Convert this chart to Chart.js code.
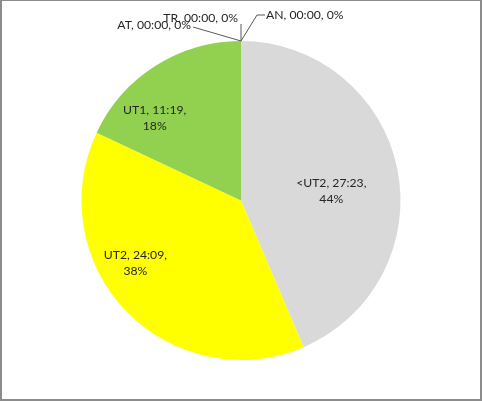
<!DOCTYPE html>
<html>
<head>
<meta charset="utf-8">
<script src="https://cdn.jsdelivr.net/npm/chart.js@4"></script>
<style>
  body { margin: 0; background: #fff; }
  canvas { display: block; }
</style>
</head>
<body>
<canvas id="chart" width="482" height="401"></canvas>
<script>
// slice names, clockwise from 12 o'clock
const categories = ["AN", "<UT2", "UT2", "UT1", "AT", "TR"];
// durations in minutes (27:23, 24:09, 11:19, ...)
const minutes = [0, 1643, 1449, 679, 0, 0];
const colors = ["#4472C4", "#D9D9D9", "#FFFF00", "#92D050", "#A5A5A5", "#5B9BD5"];

// where Excel put the labels, relative to pie centre, in radius units
const insideLabels = {
    "<UT2": [0.566, -0.062],
    "UT2": [-0.662, 0.39],
    "UT1": [-0.541, -0.516]
};
// zero slices get leader lines: elbow points and text anchor, in px from the slice start
const outsideLabels = {
    "AN": { path: [[16, -26], [24, -26]], text: [25, -26], align: "left" },
    "TR": { path: [[0, -17]], text: [-3, -23], align: "right" },
    "AT": { path: [[-48, -14]], text: [-50, -16], align: "right" }
};

const total = minutes.reduce((a, b) => a + b, 0);

function hhmm(m) {
    const h = Math.floor(m / 60);
    const mm = m % 60;
    return String(h).padStart(2, "0") + ":" + String(mm).padStart(2, "0");
}

const FONT = "12.2px Lato, 'Open Sans', sans-serif";

const labelPlugin = {
    id: "excelLabels",
    afterDatasetsDraw(chart) {
        const ctx = chart.ctx;
        const meta = chart.getDatasetMeta(0);
        ctx.save();
        ctx.font = FONT;
        ctx.fillStyle = "#262626";
        ctx.textBaseline = "middle";
        meta.data.forEach((arc, i) => {
            const p = arc.getProps(["x", "y", "startAngle", "outerRadius"], true);
            const name = categories[i];
            const pct = Math.round(minutes[i] / total * 100) + "%";
            if (insideLabels[name]) {
                const off = insideLabels[name];
                const cx = p.x + off[0] * p.outerRadius;
                const cy = p.y + off[1] * p.outerRadius;
                ctx.textAlign = "center";
                ctx.fillText(name + ", " + hhmm(minutes[i]) + ",", cx, cy - 8);
                ctx.fillText(pct, cx, cy + 8);
            } else if (outsideLabels[name]) {
                const o = outsideLabels[name];
                const sx = p.x + Math.cos(p.startAngle) * p.outerRadius;
                const sy = p.y + Math.sin(p.startAngle) * p.outerRadius;
                ctx.strokeStyle = "#595959";
                ctx.lineWidth = 1;
                ctx.beginPath();
                ctx.moveTo(sx, sy);
                o.path.forEach(pt => ctx.lineTo(sx + pt[0], sy + pt[1]));
                ctx.stroke();
                ctx.textAlign = o.align;
                ctx.fillText(name + ", " + hhmm(minutes[i]) + ", " + pct, sx + o.text[0], sy + o.text[1]);
            }
        });
        ctx.restore();
    },
    afterDraw(chart) {
        const ctx = chart.ctx;
        const w = chart.width, h = chart.height;
        ctx.save();
        ctx.fillStyle = "#8C8C8C";
        ctx.fillRect(0, 0, w, 1);
        ctx.fillRect(0, 0, 2, h);
        ctx.fillRect(w - 2, 0, 2, h);
        ctx.fillRect(0, h - 2, w, 2);
        ctx.restore();
    }
};

const chart = new Chart(document.getElementById("chart").getContext("2d"), {
    type: "pie",
    data: {
        labels: categories,
        datasets: [{
            data: minutes,
            backgroundColor: colors,
            borderWidth: 0
        }]
    },
    options: {
        responsive: false,
        animation: false,
        layout: { padding: { top: 41, bottom: 41, left: 0, right: 0 } },
        plugins: {
            legend: { display: false },
            tooltip: { enabled: false }
        }
    },
    plugins: [labelPlugin]
});
</script>
</body>
</html>
